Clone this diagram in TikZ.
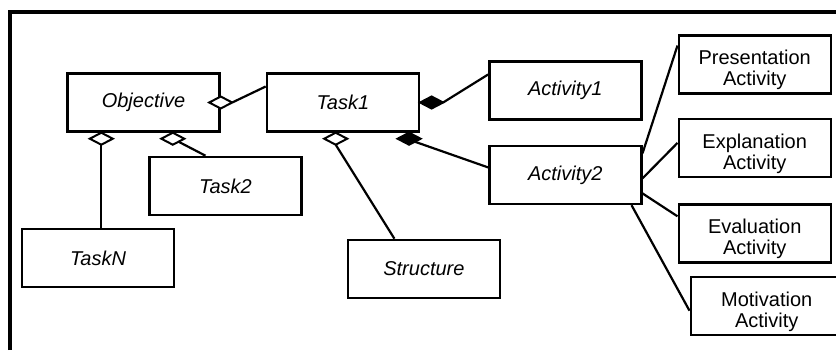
\documentclass[tikz,border=0pt]{standalone}
\usepackage{fontspec}
\setmainfont{Liberation Sans}
\usetikzlibrary{shapes.geometric, positioning}

\begin{document}
\begin{tikzpicture}[
    node distance=1.0cm,
    cls/.style={rectangle, draw, line width=1.2pt, minimum width=76pt, minimum height=29pt, inner sep=1pt, align=center, font=\fontsize{10}{10.5}\selectfont\itshape},
    kind/.style={cls, font=\fontsize{10}{10.5}\selectfont},
    agg/.style={diamond, draw, line width=1pt, fill=white, minimum width=11.5pt, minimum height=6pt, inner sep=0pt, outer sep=0pt},
    comp/.style={agg, fill=black},
    link/.style={line width=1.1pt},
    frame/.style={line width=1.6pt}
]
    \useasboundingbox (0,0) rectangle (418pt,-175pt);
    \draw[frame] (5pt,-175pt) |- (418pt,-6pt);

    % classes
    \node[cls] (obj) at (71.75pt,-51.25pt) {Objective};
    \node[cls, right=22.5pt of obj] (task1) {Task1};
    \node[cls, below=11.5pt of obj, xshift=41pt] (task2) {Task2};
    \node[cls, below=47.5pt of obj, xshift=-22.75pt] (taskN) {TaskN};
    \node[cls, below=53pt of task1, xshift=40.5pt] (struct) {Structure};
    \node[cls, right=34pt of task1, yshift=6pt] (act1) {Activity1};
    \node[cls, below=12pt of act1] (act2) {Activity2};

    % kinds of activity
    \node[kind, right=17.5pt of act1, yshift=13pt] (pres) {\rule{0pt}{13pt}Presentation\\Activity};
    \node[kind, below=11.5pt of pres] (expl) {\rule{0pt}{13pt}Explanation\\Activity};
    \node[kind, below=12.5pt of expl] (eval) {\rule{0pt}{13pt}Evaluation\\Activity};
    \node[kind, below=6pt of eval, xshift=6pt] (motiv) {\rule{0pt}{13pt}Motivation\\Activity};

    % aggregation and composition ends
    \node[agg] (dT1) at (obj.east) {};
    \node[agg, anchor=north] (dTN) at ([xshift=17.5pt]obj.south west) {};
    \node[agg, anchor=north] (dT2) at ([xshift=53.25pt]obj.south west) {};
    \node[agg, anchor=north] (dS) at ([xshift=35pt]task1.south west) {};
    \node[comp, anchor=west] (dA1) at (task1.east) {};
    \node[comp, anchor=north] (dA2) at ([xshift=-5.5pt]task1.south east) {};

    \draw[link] (dT1.east) -- ([yshift=8pt]task1.west);
    \draw[link] (dTN.south) -- (dTN.south |- taskN.north);
    \draw[link] (dT2.south east) -- ([xshift=-10pt]task2.north);
    \draw[link] (dS.south) -- ([xshift=-14.75pt]struct.north);
    \draw[link] (dA1.east) -- ([yshift=8pt]act1.west);
    \draw[link] (dA2.south east) -- ([yshift=3.75pt]act2.west);

    \draw[link] ([yshift=10.75pt]act2.east) -- ([yshift=9.5pt]pres.west);
    \draw[link] ([yshift=-1.75pt]act2.east) -- ([yshift=2.5pt]expl.west);
    \draw[link] ([yshift=-9.25pt]act2.east) -- ([yshift=8.5pt]eval.west);
    \draw[link] ([xshift=-5.5pt]act2.south east) -- ([yshift=-2.5pt]motiv.west);
\end{tikzpicture}
\end{document}
